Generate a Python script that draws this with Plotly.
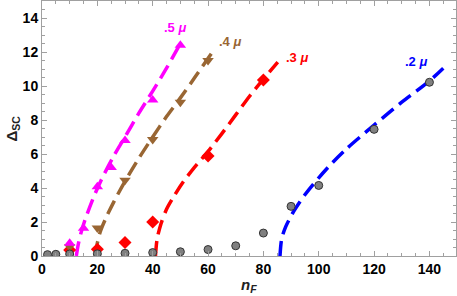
import plotly.graph_objects as go

# ---- data ----
# fitted curves (mu = .5, .4, .3, .2)
c5_n = [12.4, 13.0, 14.0, 15.5, 18.5, 21.5, 26, 30, 35, 40, 45, 50]
c5_d = [0, 0.6, 1.3, 2.1, 3.4, 4.5, 5.9, 7.0, 8.4, 9.7, 11.05, 12.5]
c4_n = [19.3, 19.8, 21, 23, 26, 30, 35, 40, 45, 50, 55, 61.2]
c4_d = [0, 0.6, 1.4, 2.2, 3.2, 4.4, 5.75, 7.0, 8.2, 9.3, 10.45, 11.9]
c3_n = [41, 41.6, 43, 45, 48, 51, 55, 60, 65, 70, 75, 80, 85.2]
c3_d = [0, 1.0, 1.9, 2.75, 3.6, 4.35, 5.2, 6.15, 7.2, 8.3, 9.4, 10.4, 11.4]
c2_n = [86, 86.6, 88, 90.5, 95, 100, 105, 110, 120, 130, 140, 145]
c2_d = [0, 1.0, 1.7, 2.5, 3.6, 4.6, 5.5, 6.3, 7.7, 9.05, 10.3, 11.05]

# data points
m5_n = [10, 15, 20, 25, 30, 40, 50]
m5_d = [0.75, 1.63, 4.08, 5.2, 6.8, 9.18, 12.4]
m4_n = [10, 20, 30, 40, 50, 60]
m4_d = [0.55, 1.65, 4.45, 6.85, 9.05, 11.5]
m3_n = [10, 20, 30, 40, 60, 80]
m3_d = [0.35, 0.4, 0.8, 2.0, 5.88, 10.35]
g_n = [2, 5, 10, 20, 30, 40, 50, 60, 70, 80, 90, 100, 120, 140]
g_d = [0.08, 0.1, 0.12, 0.13, 0.16, 0.2, 0.25, 0.38, 0.6, 1.35, 2.92, 4.15, 7.45, 10.22]

labels = [".5", ".4", ".3", ".2"]
label_n = [48.2, 68.1, 92.2, 135.0]
label_d = [13.47, 12.6, 11.7, 11.47]

MAG = "#FF00FF"
BRN = "#996633"
RED = "#FF0000"
BLU = "#0000FF"
cols = [MAG, BRN, RED, BLU]

fig = go.Figure()
dash = "15px,7px"
for xs, ys, c in [(c5_n, c5_d, MAG), (c4_n, c4_d, BRN), (c3_n, c3_d, RED), (c2_n, c2_d, BLU)]:
    fig.add_trace(go.Scatter(x=xs, y=ys, mode="lines", line=dict(color=c, width=3.5, dash=dash, shape="spline", smoothing=0.8),
                             showlegend=False, hoverinfo="skip"))

fig.add_trace(go.Scatter(x=m3_n, y=m3_d, mode="markers", marker=dict(symbol="diamond", size=10, color=RED), showlegend=False))
fig.add_trace(go.Scatter(x=m4_n, y=m4_d, mode="markers", marker=dict(symbol="triangle-down", size=10, color=BRN), showlegend=False))
fig.add_trace(go.Scatter(x=m5_n, y=m5_d, mode="markers", marker=dict(symbol="triangle-up", size=10, color=MAG), showlegend=False))
fig.add_trace(go.Scatter(x=g_n, y=g_d, mode="markers", marker=dict(symbol="circle", size=8, color="#808080", line=dict(color="#333333", width=1)), showlegend=False))

for t, xn, yd, c in zip(labels, label_n, label_d, cols):
    fig.add_annotation(x=xn, y=yd, xref="x", yref="y", text=f"<b>{t} <i>μ</i></b>", showarrow=False,
                       font=dict(family="Liberation Sans", size=13, color=c))

fig.add_annotation(xref="paper", yref="paper", x=0.5, y=0, yshift=-29, yanchor="middle",
                   text="<b><i>n</i><sub><i>F</i></sub></b>", showarrow=False,
                   font=dict(family="Liberation Sans", size=15, color="#222"))
fig.add_annotation(xref="paper", yref="paper", x=0, xshift=-30, y=0.5, xanchor="center",
                   text="<b>Δ<sub>SC</sub></b>", textangle=-90, showarrow=False,
                   font=dict(family="Liberation Sans", size=15, color="#222"))

axis_common = dict(showline=True, mirror="ticks", linecolor="#a0a0a0", linewidth=1, ticks="inside", ticklen=5,
                   tickcolor="#a0a0a0", showgrid=False, zeroline=False, automargin=False,
                   tickfont=dict(family="Liberation Sans", size=14, color="black", weight="bold"))
fig.update_xaxes(range=[0, 149.6], dtick=20, tick0=0, minor=dict(dtick=5, ticks="inside", ticklen=3, tickcolor="#a0a0a0"),
                 ticklabelstandoff=0, **axis_common)
fig.update_yaxes(range=[0, 15], dtick=2, tick0=0, minor=dict(dtick=0.5, ticks="inside", ticklen=3, tickcolor="#a0a0a0"),
                 ticklabelstandoff=0, **axis_common)

fig.update_layout(width=457, height=296, margin=dict(l=42, r=1, t=1, b=40),
                  plot_bgcolor="white", paper_bgcolor="white")
fig.write_html("out.html", config={"displayModeBar": False},
               post_script="document.body.style.margin='0';document.body.style.overflow='hidden';")
